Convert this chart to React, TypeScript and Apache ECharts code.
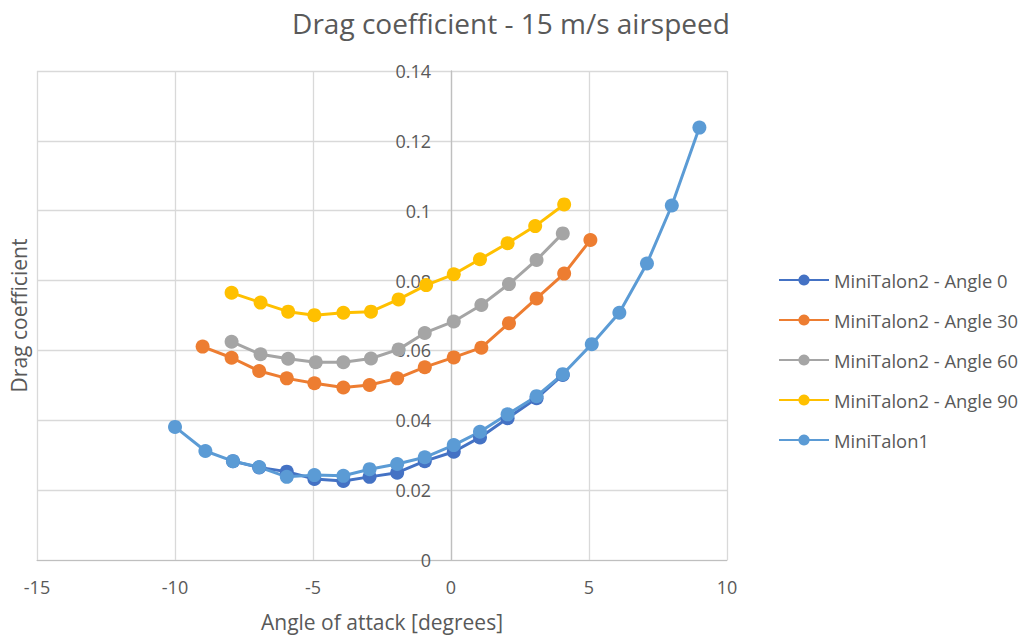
import React, { useEffect, useRef } from "react";
import * as echarts from "echarts";

const seriesNames = [
  "MiniTalon2 - Angle 0",
  "MiniTalon2 - Angle 30",
  "MiniTalon2 - Angle 60",
  "MiniTalon2 - Angle 90",
  "MiniTalon1",
];
const colors = ["#4472C4", "#ED7D31", "#A5A5A5", "#FFC000", "#5B9BD5"];

const angle0X = [-7.9, -6.95, -5.95, -4.95, -3.9, -2.95, -1.95, -0.95, 0.1, 1.05, 2.05, 3.1, 4.05];
const angle0Y = [0.0283, 0.0265, 0.0253, 0.0232, 0.0226, 0.0238, 0.025, 0.0283, 0.031, 0.0351, 0.0406, 0.0463, 0.053];

const angle30X = [-9.0, -7.95, -6.95, -5.95, -4.95, -3.9, -2.95, -1.95, -0.95, 0.1, 1.1, 2.1, 3.1, 4.1, 5.05];
const angle30Y = [0.0611, 0.0579, 0.0541, 0.052, 0.0506, 0.0494, 0.0501, 0.052, 0.0552, 0.058, 0.0608, 0.0678, 0.0749, 0.082, 0.0916];

const angle60X = [-7.95, -6.9, -5.9, -4.9, -3.9, -2.9, -1.9, -0.95, 0.1, 1.1, 2.1, 3.1, 4.05];
const angle60Y = [0.0625, 0.0589, 0.0576, 0.0566, 0.0566, 0.0577, 0.0603, 0.065, 0.0683, 0.073, 0.079, 0.0859, 0.0935];

const angle90X = [-7.95, -6.9, -5.9, -4.95, -3.9, -2.9, -1.9, -0.9, 0.1, 1.05, 2.05, 3.05, 4.1];
const angle90Y = [0.0765, 0.0737, 0.0711, 0.0701, 0.0708, 0.0711, 0.0746, 0.0787, 0.0818, 0.0861, 0.0907, 0.0956, 0.1018];

const talon1X = [-10, -8.9, -7.9, -6.95, -5.95, -4.95, -3.9, -2.95, -1.95, -0.95, 0.1, 1.05, 2.05, 3.1, 4.05, 5.1, 6.1, 7.1, 8.0, 9.0];
const talon1Y = [0.0381, 0.0312, 0.0283, 0.0266, 0.0238, 0.0243, 0.0241, 0.026, 0.0275, 0.0294, 0.0329, 0.0367, 0.0417, 0.0469, 0.0532, 0.0618, 0.0708, 0.0849, 0.1015, 0.1238];

const allX = [angle0X, angle30X, angle60X, angle90X, talon1X];
const allY = [angle0Y, angle30Y, angle60Y, angle90Y, talon1Y];

const FONT = "'Open Sans', sans-serif";
const TEXT = "#595959";

export default function App() {
  const ref = useRef<HTMLDivElement>(null);
  useEffect(() => {
    if (!ref.current) return;
    const chart = echarts.init(ref.current, null, { renderer: "svg" });
    chart.setOption({
      animation: false,
      backgroundColor: "#ffffff",
      textStyle: { fontFamily: FONT },
      title: {
        text: "Drag coefficient - 15 m/s airspeed",
        left: 506,
        textAlign: "center",
        top: 4,
        textStyle: { fontFamily: FONT, fontSize: 28, fontWeight: "normal", color: TEXT },
      },
      grid: {
        left: 37,
        right: 296,
        top: 71,
        bottom: 79,
        containLabel: false,
        outerBoundsMode: "none",
      },
      legend: {
        orient: "vertical",
        left: 773,
        top: 264,
        itemWidth: 50,
        itemHeight: 14,
        itemGap: 18,
        textStyle: { fontFamily: FONT, fontSize: 18.4, color: TEXT, lineHeight: 22 },
        data: seriesNames,
      },
      xAxis: {
        type: "value",
        min: -15,
        max: 10,
        interval: 5,
        name: "Angle of attack [degrees]",
        nameLocation: "middle",
        nameGap: 51,
        nameTextStyle: { fontFamily: FONT, fontSize: 21, color: TEXT },
        axisLine: { show: true, onZero: false, lineStyle: { color: "#BFBFBF", width: 1 } },
        axisTick: { show: false },
        axisLabel: { fontFamily: FONT, fontSize: 18, color: TEXT, margin: 18 },
        splitLine: { show: true, lineStyle: { color: "#D9D9D9", width: 1.3 } },
      },
      yAxis: {
        type: "value",
        min: 0,
        max: 0.14,
        interval: 0.02,
        offset: -414,
        name: "Drag coefficient",
        nameLocation: "middle",
        nameGap: 422,
        nameRotate: 90,
        nameTextStyle: { fontFamily: FONT, fontSize: 21, color: TEXT },
        axisLine: { show: true, onZero: false, lineStyle: { color: "#BFBFBF", width: 1.3 } },
        axisTick: { show: false },
        axisLabel: { fontFamily: FONT, fontSize: 18, color: TEXT, margin: 20 },
        splitLine: { show: true, lineStyle: { color: "#D9D9D9", width: 1.3 } },
      },
      series: seriesNames.map((name, i) => ({
        name,
        type: "line",
        data: allX[i].map((x, j) => [x, allY[i][j]]),
        symbol: "circle",
        symbolSize: 14,
        showSymbol: true,
        lineStyle: { color: colors[i], width: 3 },
        itemStyle: { color: colors[i] },
        emphasis: { disabled: true },
      })),
    });
    return () => chart.dispose();
  }, []);
  return (
    <div
      ref={ref}
      style={{ position: "absolute", left: 0, top: 0, width: 1023, height: 639 }}
    />
  );
}
